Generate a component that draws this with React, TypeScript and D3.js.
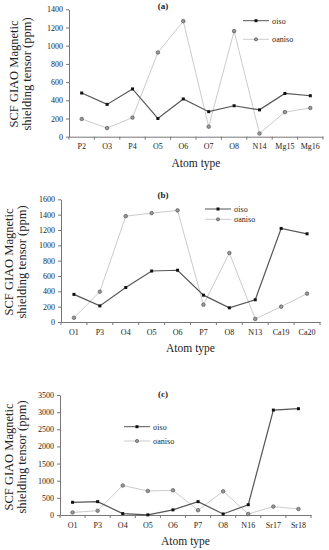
import React, { useRef, useEffect } from "react";
import * as d3 from "d3";

// panel (a)
const atomsA = ["P2", "O3", "P4", "O5", "O6", "O7", "O8", "N14", "Mg15", "Mg16"];
const isoA = [480, 355, 525, 200, 415, 275, 340, 295, 475, 450];
const anisoA = [195, 95, 210, 925, 1270, 110, 1160, 35, 270, 315];
const ticksA = [0, 200, 400, 600, 800, 1000, 1200, 1400];

// panel (b)
const atomsB = ["O1", "P3", "O4", "O5", "O6", "P7", "O8", "N13", "Ca19", "Ca20"];
const isoB = [360, 210, 450, 665, 675, 350, 185, 290, 1220, 1150];
const anisoB = [55, 395, 1380, 1420, 1455, 225, 900, 40, 200, 370];
const ticksB = [0, 200, 400, 600, 800, 1000, 1200, 1400, 1600];

// panel (c)
const atomsC = ["O1", "P3", "O4", "O5", "O6", "P7", "O8", "N16", "Sr17", "Sr18"];
const isoC = [370, 390, 40, 5, 150, 390, 30, 300, 3060, 3100];
const anisoC = [75, 125, 860, 700, 720, 140, 690, 30, 245, 175];
const ticksC = [0, 500, 1000, 1500, 2000, 2500, 3000, 3500];

const FONT = "'Liberation Serif', 'Times New Roman', serif";
const ISO_LINE = "#555";
const ANISO_LINE = "#cbcbcb";

const panels = [
  {
    title: "(a)", atoms: atomsA, iso: isoA, aniso: anisoA, ticks: ticksA,
    x0: 69, x1: 323, yTop: 9.3, yBot: 136.7, titleY: 9,
    labelX: 9, labelY: 74, xLabelY: 167,
    legend: { x: 243, y: 20.7, gap: 18.6 },
  },
  {
    title: "(b)", atoms: atomsB, iso: isoB, aniso: anisoB, ticks: ticksB,
    x0: 61, x1: 320, yTop: 199.3, yBot: 322, titleY: 198,
    labelX: 4, labelY: 262, xLabelY: 352,
    legend: { x: 205, y: 209, gap: 10.3 },
  },
  {
    title: "(c)", atoms: atomsC, iso: isoC, aniso: anisoC, ticks: ticksC,
    x0: 60, x1: 311, yTop: 395, yBot: 515, titleY: 397,
    labelX: 4, labelY: 457, xLabelY: 545,
    legend: { x: 124, y: 426.7, gap: 14.3 },
  },
];

const App = () => {
  const svgRef = useRef(null);

  useEffect(() => {
    const svg = d3.select(svgRef.current);
    svg.selectAll("*").remove();

    panels.forEach((p) => {
      const g = svg.append("g").attr("font-family", FONT);

      const x = d3.scaleBand().domain(p.atoms).range([p.x0, p.x1]);
      const y = d3
        .scaleLinear()
        .domain([0, p.ticks[p.ticks.length - 1]])
        .range([p.yBot, p.yTop]);

      // y axis
      const yAxis = g
        .append("g")
        .attr("transform", "translate(" + p.x0 + ",0)")
        .call(
          d3.axisLeft(y).tickValues(p.ticks).tickFormat(d3.format("d"))
            .tickSize(3).tickSizeOuter(0).tickPadding(3)
        );
      yAxis.select(".domain").attr("stroke", "#777");
      yAxis.selectAll("line").attr("stroke", "#777");
      yAxis.selectAll("text").attr("font-size", 8).attr("font-family", FONT).attr("fill", "#222");

      // x axis, ticks between categories
      const xAxis = g
        .append("g")
        .attr("transform", "translate(0," + p.yBot + ")")
        .call(d3.axisBottom(x).tickSize(0).tickPadding(7));
      xAxis.select(".domain").attr("stroke", "#777");
      xAxis.selectAll("text").attr("font-size", 8).attr("font-family", FONT).attr("fill", "#222");
      g.selectAll(".xsep")
        .data(p.atoms.concat(["end"]))
        .enter()
        .append("line")
        .attr("x1", (d, i) => p.x0 + i * x.bandwidth())
        .attr("x2", (d, i) => p.x0 + i * x.bandwidth())
        .attr("y1", p.yBot)
        .attr("y2", p.yBot + 3)
        .attr("stroke", "#777");

      const cx = (i) => x(p.atoms[i]) + x.bandwidth() / 2;
      const line = d3
        .line()
        .x((d, i) => cx(i))
        .y((d) => y(d));

      // aniso
      g.append("path")
        .datum(p.aniso)
        .attr("d", line)
        .attr("fill", "none")
        .attr("stroke", ANISO_LINE)
        .attr("stroke-width", 1);
      g.selectAll(".aniso")
        .data(p.aniso)
        .enter()
        .append("circle")
        .attr("cx", (d, i) => cx(i))
        .attr("cy", (d) => y(d))
        .attr("r", 1.8)
        .attr("fill", "#999")
        .attr("stroke", "#444")
        .attr("stroke-width", 0.6);

      // iso
      g.append("path")
        .datum(p.iso)
        .attr("d", line)
        .attr("fill", "none")
        .attr("stroke", ISO_LINE)
        .attr("stroke-width", 1.2);
      g.selectAll(".iso")
        .data(p.iso)
        .enter()
        .append("rect")
        .attr("x", (d, i) => cx(i) - 1.5)
        .attr("y", (d) => y(d) - 1.5)
        .attr("width", 3)
        .attr("height", 3)
        .attr("fill", "#111");

      // title
      g.append("text")
        .attr("x", 163)
        .attr("y", p.titleY)
        .attr("text-anchor", "middle")
        .attr("font-size", 9)
        .attr("font-weight", "bold")
        .attr("fill", "#222")
        .text(p.title);

      // y axis label
      const yl = g
        .append("text")
        .attr("transform", "translate(" + p.labelX + "," + p.labelY + ") rotate(-90)")
        .attr("text-anchor", "middle")
        .attr("font-size", 12.5)
        .attr("fill", "#222");
      yl.append("tspan").attr("x", 0).attr("dy", "0.75em").text("SCF GIAO Magnetic");
      yl.append("tspan").attr("x", 0).attr("dy", "1.0em").text("shielding tensor  (ppm)");

      // x axis label
      g.append("text")
        .attr("x", (p.x0 + p.x1) / 2)
        .attr("y", p.xLabelY)
        .attr("text-anchor", "middle")
        .attr("font-size", 11.5)
        .attr("fill", "#222")
        .text("Atom type");

      // legend
      const lg = p.legend;
      g.append("line")
        .attr("x1", lg.x).attr("x2", lg.x + 26)
        .attr("y1", lg.y).attr("y2", lg.y)
        .attr("stroke", ISO_LINE);
      g.append("rect")
        .attr("x", lg.x + 13 - 1.5).attr("y", lg.y - 1.5)
        .attr("width", 3).attr("height", 3)
        .attr("fill", "#111");
      g.append("text")
        .attr("x", lg.x + 29).attr("y", lg.y + 3)
        .attr("font-size", 8).attr("fill", "#222")
        .text("σiso");
      g.append("line")
        .attr("x1", lg.x).attr("x2", lg.x + 26)
        .attr("y1", lg.y + lg.gap).attr("y2", lg.y + lg.gap)
        .attr("stroke", ANISO_LINE);
      g.append("circle")
        .attr("cx", lg.x + 13).attr("cy", lg.y + lg.gap)
        .attr("r", 1.6)
        .attr("fill", "#999")
        .attr("stroke", "#444")
        .attr("stroke-width", 0.6);
      g.append("text")
        .attr("x", lg.x + 29).attr("y", lg.y + lg.gap + 3)
        .attr("font-size", 8).attr("fill", "#222")
        .text("σaniso");
    });
  }, []);

  return (
    <div style={{ position: "absolute", left: 0, top: 0, background: "#fff" }}>
      <svg ref={svgRef} width={329} height={550} style={{ display: "block" }}></svg>
    </div>
  );
};

export default App;
